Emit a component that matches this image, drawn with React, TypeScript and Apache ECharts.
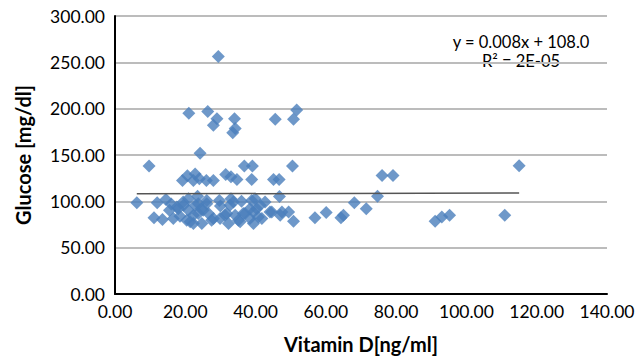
import React, { useEffect, useRef } from "react";
import * as echarts from "echarts";

// Vitamin D [ng/ml] (x) and Glucose [mg/dl] (y)
const vitaminD: number[] = [
  29.4, 21.0, 26.4, 29.0, 28.0, 34.0, 34.2, 33.5, 45.6, 51.7, 50.8, 24.2,
  9.7, 36.8, 39.1, 50.5, 115.0,
  76.0, 79.1,
  19.2, 20.6, 22.8, 22.3, 24.0, 26.0, 28.0, 31.5, 33.0, 34.7, 38.9, 45.1, 46.7,
  46.8, 74.7, 23.5,
  6.2, 12.0, 14.5, 11.1, 13.5, 16.6, 15.5, 17.6, 19.4, 20.9, 20.9, 21.4, 22.3,
  23.7, 24.7, 25.1, 26.1, 28.0, 29.7, 29.9, 31.8, 32.3, 33.7, 34.2, 35.1, 36.5,
  38.9, 39.4, 39.4, 40.3, 41.8, 42.7, 44.1, 47.5, 49.4, 50.8, 56.9, 60.1, 64.3,
  65.0, 68.1, 71.5, 91.1, 93.0, 95.2, 110.9,
  18.0, 19.5, 20.4, 22.3, 23.7, 26.6, 27.5, 22.8, 26.1, 33.0, 32.7, 39.9, 41.3,
  31.3, 35.6, 37.0, 38.4, 40.8, 38.4, 44.6, 47.0, 24.5, 30.0, 16.0, 18.5, 36.0,
];
const glucose: number[] = [
  256.4, 195.0, 197.0, 189.0, 182.0, 189.0, 178.6, 174.0, 188.6, 198.5, 188.6, 152.0,
  138.0, 138.0, 138.0, 138.0, 138.5,
  127.8, 127.8,
  122.5, 127.5, 129.6, 122.5, 124.3, 122.5, 122.5, 129.0, 126.5, 123.6, 123.6, 123.6, 123.6,
  105.3, 105.4, 105.5,
  98.6, 98.6, 102.0, 82.2, 80.5, 81.4, 90.3, 94.0, 99.3, 102.9, 90.3, 77.9, 85.0,
  97.5, 76.0, 90.3, 101.0, 81.4, 101.0, 81.4, 86.8, 76.0, 99.3, 85.0, 79.6, 86.8,
  101.0, 88.6, 76.0, 92.1, 81.4, 99.3, 88.6, 88.6, 88.6, 78.6, 82.2, 87.9, 82.2,
  85.0, 98.6, 92.1, 78.6, 83.2, 85.0, 85.0,
  92.1, 95.7, 79.6, 76.0, 86.8, 86.8, 79.6, 95.7, 97.5, 102.9, 95.7, 102.9, 95.7,
  85.0, 77.9, 86.8, 81.4, 83.2, 92.1, 88.6, 85.0, 92.0, 95.0, 97.0, 84.0, 100.0,
];

// Linear trendline as shown in the chart
const trendSlope = 0.008;
const trendIntercept = 108.0;
const trendXRange: number[] = [6.2, 115.0];
const equationLines: string[] = ["y = 0.008x + 108.0", "R² = 2E-05"];

const xTitle = "Vitamin D[ng/ml]";
const yTitle = "Glucose [mg/dl]";

export default function App() {
  const ref = useRef<HTMLDivElement>(null);
  useEffect(() => {
    document.body.style.margin = "0";
    if (!ref.current) return;
    const chart = echarts.init(ref.current, null, { renderer: "svg" });
    const points = vitaminD.map((x, i) => [x, glucose[i]]);
    const trend = trendXRange.map((x) => [x, trendIntercept + trendSlope * x]);
    const font = "Lato, 'Open Sans', sans-serif";
    chart.setOption({
      animation: false,
      backgroundColor: "#ffffff",
      grid: { left: 115, top: 16, right: 37, bottom: 63, containLabel: false },
      xAxis: {
        type: "value",
        min: 0,
        max: 140,
        interval: 20,
        name: xTitle,
        nameLocation: "middle",
        nameGap: 40,
        nameTextStyle: { fontFamily: font, fontSize: 20, fontWeight: "bold", color: "#000" },
        axisLine: { show: true, onZero: false, lineStyle: { color: "#000", width: 2 } },
        axisTick: { show: false },
        splitLine: { show: false },
        axisLabel: {
          fontFamily: font,
          fontSize: 17.5,
          color: "#000",
          margin: 8,
          formatter: (v: number) => v.toFixed(2),
        },
      },
      yAxis: {
        type: "value",
        min: 0,
        max: 300,
        interval: 50,
        name: yTitle,
        nameLocation: "middle",
        nameGap: 82,
        nameTextStyle: { fontFamily: font, fontSize: 20, fontWeight: "bold", color: "#000" },
        axisLine: { show: true, lineStyle: { color: "#000", width: 2 } },
        axisTick: { show: false },
        splitLine: { show: true, lineStyle: { color: "#bcbcbc", width: 2 } },
        axisLabel: {
          fontFamily: font,
          fontSize: 17.5,
          color: "#000",
          margin: 10,
          formatter: (v: number) => v.toFixed(2),
        },
      },
      series: [
        {
          type: "scatter",
          data: points,
          symbol: "diamond",
          symbolSize: [13, 13],
          itemStyle: { color: "#4a7ebb" },
          z: 2,
        },
        {
          type: "line",
          data: trend,
          showSymbol: false,
          symbol: "none",
          lineStyle: { color: "#555555", width: 1.5 },
          z: 3,
        },
      ],
      graphic: [
        {
          type: "text",
          x: 521,
          y: 42,
          style: {
            text: equationLines[0],
            fontFamily: font,
            fontSize: 16.5,
            fill: "#000",
            align: "center",
            verticalAlign: "middle",
          },
        },
        {
          type: "text",
          x: 521,
          y: 61,
          style: {
            text: equationLines[1],
            fontFamily: font,
            fontSize: 16.5,
            fill: "#000",
            align: "center",
            verticalAlign: "middle",
          },
        },
      ],
    });
    return () => chart.dispose();
  }, []);
  return <div ref={ref} style={{ width: 644, height: 359 }} />;
}
